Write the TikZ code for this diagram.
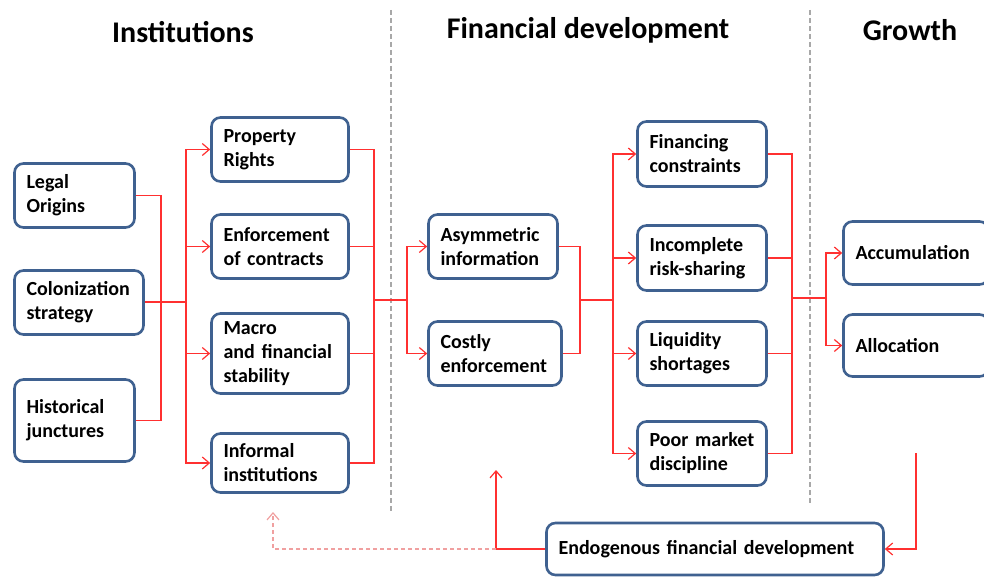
\documentclass[tikz,border=0pt]{standalone}
\usepackage{fontspec}
\setmainfont{Carlito}
\usetikzlibrary{positioning}
\usetikzlibrary{arrows.meta}
\definecolor{boxblue}{HTML}{3F6190}
\definecolor{linkred}{HTML}{FF3030}
\definecolor{palered}{HTML}{F0A0A0}
\definecolor{sepgray}{HTML}{A8A8A8}

\begin{document}
\begin{tikzpicture}[
    x=1pt, y=-1pt,
    >={Straight Barb[length=7pt,width=12pt]},
    box/.style={
      draw=boxblue,
      line width=2.6pt,
      fill=white,
      rounded corners=9pt,
      inner xsep=12pt,
      align=left,
      font=\fontsize{20}{24}\selectfont\bfseries,
    },
    title/.style={
      font=\fontsize{30}{36}\selectfont\bfseries,
    },
    link/.style={
      draw=linkred,
      line width=1.2pt,
    },
    feedback/.style={
      draw=palered,
      line width=1.2pt,
      dash pattern=on 4pt off 3pt,
    },
    separator/.style={
      draw=sepgray,
      line width=1.2pt,
      dash pattern=on 5pt off 3pt,
    },
    ]
    \useasboundingbox (0,0) rectangle (984,577);

    % column titles and separators
    \node[title] (tinst) at (183,32) {Institutions};
    \node[title] (tfin) at (588,30) {Financial development};
    \node[title] (tgrowth) at (910,30) {Growth};
    \draw[separator] (391,10) -- (391,512);
    \draw[separator] (810,10) -- (810,503);

    % origins
    \node[box, text width=96pt, minimum height=64pt] (legal) at (74.5,195.5) {
      Legal \\ Origins
    };
    \node[box, text width=105pt, minimum height=64pt] (colon) at (79,302.5) {
      Colonization \\ strategy
    };
    \node[box, text width=96pt, minimum height=82pt] (hist) at (74.5,420.5) {
      Historical \\ junctures
    };

    % institutions
    \node[box, text width=113pt, minimum height=64pt] (prop) at (280,149.5) {
      Property \\ Rights
    };
    \node[box, text width=113pt, minimum height=64pt] (enf) at (280,246.5) {
      Enforcement \\ of contracts
    };
    \node[box, text width=113pt, minimum height=80pt] (macro) at (280,353.5) {
      Macro \\ and financial \\ stability
    };
    \node[box, text width=113pt, minimum height=59pt] (informal) at (280,463) {
      Informal \\ institutions
    };

    % frictions
    \node[box, text width=105pt, minimum height=64pt] (asym) at (493,246.5) {
      Asymmetric \\ information
    };
    \node[box, text width=109pt, minimum height=64pt] (costly) at (495,353.5) {
      Costly \\ enforcement
    };

    % financial development
    \node[box, text width=105pt, minimum height=65pt] (finc) at (702,154) {
      Financing \\ constraints
    };
    \node[box, text width=105pt, minimum height=65pt] (risk) at (702,258) {
      Incomplete \\ risk-sharing
    };
    \node[box, text width=105pt, minimum height=64pt] (liq) at (702,353.5) {
      Liquidity \\ shortages
    };
    \node[box, text width=105pt, minimum height=64pt] (poor) at (702,453.5) {
      Poor market \\ discipline
    };

    % growth
    \node[box, text width=121pt, minimum height=63pt] (accum) at (916,253) {
      Accumulation
    };
    \node[box, text width=121pt, minimum height=62pt] (alloc) at (916,345.5) {
      Allocation
    };
    \node[box, text width=313pt, minimum height=52pt] (endo) at (715,549) {
      Endogenous financial development
    };

    % junctions
    \coordinate (obus) at (161,302);
    \coordinate (ibus) at (186,302);
    \coordinate (ibusr) at (374,300);
    \coordinate (abus) at (407,300);
    \coordinate (fbus) at (580,300);
    \coordinate (fbusr) at (613,300);
    \coordinate (gbus) at (792,298);
    \coordinate (gbusr) at (826,298);
    \coordinate (gtail) at (916,453);
    \coordinate (ftip) at (496,470);
    \coordinate (fjoin) at (496,549);
    \coordinate (itip) at (273,512);

    \draw[link] (legal.east) -| (obus) |- (hist.east);
    \draw[link] (colon.east |- obus) -- (ibus);
    \foreach \n in {prop,enf,macro,informal}
      \draw[link, ->] (ibus) |- (\n.west);
    \foreach \n in {prop,enf,macro,informal}
      \draw[link] (\n.east) -| (ibusr);
    \draw[link] (ibusr) -- (abus);
    \draw[link, ->] (abus) |- (asym.west);
    \draw[link, ->] (abus) |- (costly.west);
    \draw[link] (asym.east) -| (fbus);
    \draw[link] (costly.east) -| (fbus);
    \draw[link] (fbus) -- (fbusr);
    \foreach \n in {finc,risk,liq,poor}
      \draw[link, ->] (fbusr) |- (\n.west);
    \foreach \n in {finc,risk,liq,poor}
      \draw[link] (\n.east) -| (gbus);
    \draw[link] (gbus) -- (gbusr);
    \draw[link, ->] (gbusr) |- (accum.west);
    \draw[link, ->] (gbusr) |- (alloc.west);
    \draw[link, ->] (gtail) |- (endo.east);
    \draw[link, ->] (endo.west) -| (ftip);
    \draw[feedback, ->] (fjoin) -| (itip);
  \end{tikzpicture}
\end{document}
